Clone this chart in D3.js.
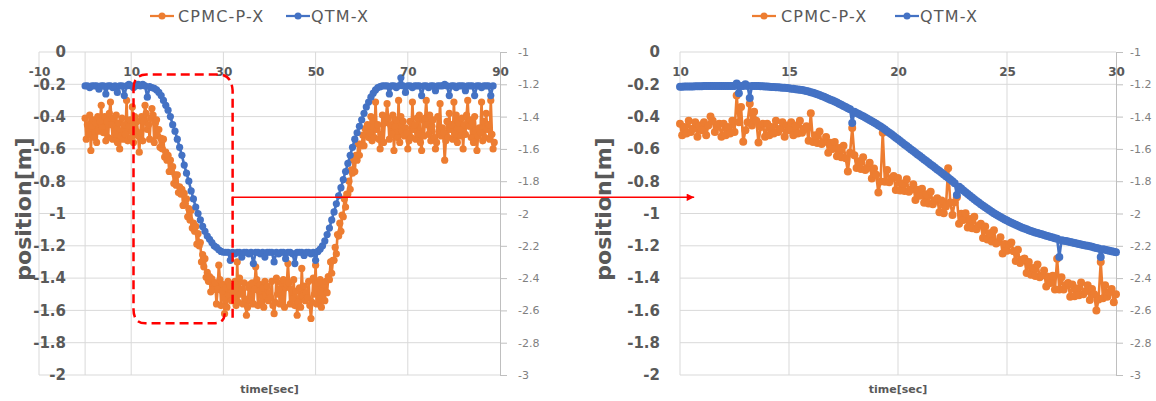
<!DOCTYPE html>
<html>
<head>
<meta charset="utf-8">
<script src="https://cdnjs.cloudflare.com/ajax/libs/d3/7.8.5/d3.min.js"></script>
<style>
  body { margin: 0; background: #fff; }
  svg { display: block; font-family: 'DejaVu Sans', sans-serif; }
</style>
</head>
<body>
<div class="canvas"></div>
<script>
const seriesNames = ['CPMC-P-X', 'QTM-X'];
const colors = ['#ED7D31', '#4472C4'];

// whole run: CPMC sampled every 0.25 s, QTM every 0.5 s, both from t = 0
const runStart = 0;
const runCpmcStep = 0.25;
const runQtmStep = 0.5;
const runCpmc = [
  // 0 - 15.75 s
  -0.41, -0.54, -0.45, -0.51, -0.39, -0.61, -0.46, -0.42, -0.53, -0.44, -0.56, -0.40, -0.49, -0.43, -0.33, -0.47,
  -0.50, -0.40, -0.55, -0.43, -0.53, -0.38, -0.31, -0.45, -0.54, -0.41, -0.51, -0.39, -0.56, -0.44, -0.60, -0.52,
  -0.41, -0.54, -0.45, -0.51, -0.30, -0.55, -0.46, -0.42, -0.53, -0.34, -0.56, -0.40, -0.49, -0.43, -0.52, -0.62,
  -0.50, -0.40, -0.55, -0.43, -0.33, -0.38, -0.48, -0.45, -0.54, -0.41, -0.35, -0.39, -0.56, -0.44, -0.42, -0.52,
  // 16 - 28 s
  -0.48, -0.59, -0.535, -0.6, -0.54, -0.65, -0.62, -0.67, -0.64, -0.74, -0.67, -0.74,
  -0.71, -0.815, -0.76, -0.825, -0.76, -0.87, -0.835, -0.88, -0.85, -0.95, -0.875, -0.94,
  -0.91, -1.02, -0.97, -1.04, -0.98, -1.09, -1.06, -1.11, -1.08, -1.19, -1.125, -1.2,
  -1.18, -1.3, -1.255, -1.33, -1.28, -1.395, -1.365, -1.42, -1.39, -1.485, -1.405, -1.47,
  -1.43,
  // 28.25 - 52 s
  -1.43, -1.56, -1.47, -1.32, -1.41, -1.57, -1.48, -1.44, -1.62, -1.46, -1.58, -1.42, -1.51, -1.45, -1.54, -1.49,
  -1.52, -1.42, -1.57, -1.30, -1.55, -1.40, -1.50, -1.47, -1.56, -1.43, -1.53, -1.63, -1.58, -1.46, -1.44, -1.54,
  -1.43, -1.56, -1.47, -1.33, -1.41, -1.57, -1.48, -1.44, -1.55, -1.46, -1.58, -1.42, -1.51, -1.45, -1.54, -1.49,
  -1.52, -1.42, -1.57, -1.62, -1.55, -1.40, -1.50, -1.47, -1.56, -1.43, -1.53, -1.41, -1.58, -1.46, -1.44, -1.31,
  -1.43, -1.56, -1.47, -1.53, -1.41, -1.57, -1.48, -1.63, -1.55, -1.46, -1.58, -1.34, -1.51, -1.45, -1.54, -1.49,
  -1.52, -1.42, -1.57, -1.65, -1.55, -1.40, -1.50, -1.32, -1.56, -1.43, -1.53, -1.41, -1.58, -1.46, -1.44, -1.54,
  // 52.25 - 61.5 s
  -1.42, -1.49, -1.39, -1.41, -1.3, -1.37, -1.29, -1.29, -1.21, -1.25, -1.13, -1.14,
  -1.06, -1.11, -1.01, -1.02, -0.91, -0.96, -0.88, -0.88, -0.8, -0.85, -0.73, -0.75,
  -0.67, -0.74, -0.64, -0.67, -0.57, -0.64, -0.57, -0.58, -0.515, -0.58, -0.475, -0.51,
  -0.45, -0.53,
  // 61.75 - 88.75 s
  -0.50, -0.40, -0.55, -0.43, -0.53, -0.31, -0.48, -0.45, -0.54, -0.60, -0.51, -0.39, -0.56, -0.44, -0.42, -0.32,
  -0.41, -0.54, -0.45, -0.51, -0.39, -0.61, -0.46, -0.42, -0.53, -0.30, -0.56, -0.40, -0.49, -0.43, -0.52, -0.47,
  -0.50, -0.60, -0.55, -0.43, -0.53, -0.31, -0.48, -0.45, -0.54, -0.41, -0.51, -0.39, -0.56, -0.61, -0.42, -0.52,
  -0.41, -0.30, -0.45, -0.51, -0.39, -0.55, -0.46, -0.42, -0.53, -0.60, -0.56, -0.40, -0.49, -0.32, -0.52, -0.47,
  -0.50, -0.67, -0.55, -0.43, -0.53, -0.38, -0.48, -0.45, -0.54, -0.31, -0.51, -0.39, -0.56, -0.44, -0.42, -0.52,
  -0.41, -0.60, -0.45, -0.51, -0.39, -0.30, -0.46, -0.42, -0.53, -0.44, -0.56, -0.40, -0.49, -0.61, -0.52, -0.47,
  -0.50, -0.31, -0.55, -0.43, -0.53, -0.38, -0.48, -0.45, -0.54, -0.30, -0.51, -0.60, -0.56
];
const runQtm = [
  -0.21, -0.21, -0.22, -0.21, -0.21, -0.21, -0.23, -0.21, -0.21, -0.26,
  -0.21, -0.21, -0.22, -0.21, -0.25, -0.21, -0.21, -0.27, -0.21, -0.2,
  -0.21, -0.22, -0.21, -0.2, -0.21, -0.2, -0.21, -0.28, -0.215, -0.22,
  -0.225, -0.235, -0.25, -0.27, -0.3, -0.33, -0.36, -0.4, -0.45, -0.49,
  -0.54, -0.59, -0.64, -0.7, -0.75, -0.8, -0.86, -0.91, -0.96, -1.0,
  -1.04, -1.08, -1.11, -1.14, -1.16, -1.18, -1.2, -1.21, -1.225, -1.235,
  -1.24, -1.24, -1.24, -1.29, -1.24, -1.25, -1.24, -1.24, -1.27, -1.24,
  -1.24, -1.25, -1.24, -1.31, -1.24, -1.24, -1.25, -1.24, -1.27, -1.24,
  -1.24, -1.24, -1.3, -1.24, -1.25, -1.24, -1.24, -1.28, -1.24, -1.24,
  -1.25, -1.31, -1.24, -1.24, -1.24, -1.26, -1.24, -1.24, -1.25, -1.24,
  -1.29, -1.235, -1.22, -1.2, -1.17, -1.13, -1.09, -1.04, -0.99, -0.94,
  -0.89, -0.84, -0.79, -0.74, -0.69, -0.64, -0.59, -0.54, -0.5, -0.46,
  -0.42, -0.38, -0.34, -0.31, -0.28, -0.255, -0.235, -0.22, -0.215, -0.21,
  -0.21, -0.21, -0.26, -0.21, -0.21, -0.22, -0.21, -0.16, -0.21, -0.25,
  -0.21, -0.21, -0.22, -0.21, -0.21, -0.21, -0.27, -0.21, -0.21, -0.22,
  -0.21, -0.21, -0.24, -0.21, -0.21, -0.21, -0.2, -0.21, -0.27, -0.21,
  -0.21, -0.22, -0.21, -0.21, -0.21, -0.24, -0.21, -0.21, -0.21, -0.27,
  -0.21, -0.21, -0.22, -0.21, -0.21, -0.21, -0.27, -0.21
];

// zoomed window, one sample every 0.1 s from t = 10
const zoomStart = 10;
const zoomStep = 0.1;
const zoomCpmc = [
  -0.445, -0.515, -0.465, -0.505, -0.425, -0.495, -0.475, -0.435, -0.525, -0.455,
  -0.485, -0.435, -0.515, -0.455, -0.40, -0.425, -0.495, -0.465, -0.445, -0.525,
  -0.445, -0.515, -0.465, -0.505, -0.425, -0.495, -0.27, -0.435, -0.34, -0.555,
  -0.485, -0.435, -0.32, -0.455, -0.37, -0.425, -0.56, -0.465, -0.445, -0.525,
  -0.445, -0.515, -0.465, -0.505, -0.425, -0.495, -0.475, -0.435, -0.525, -0.455,
  -0.485, -0.435, -0.515, -0.455, -0.505, -0.425, -0.5, -0.475, -0.46, -0.55,
  -0.38, -0.558, -0.516, -0.564, -0.492, -0.57, -0.558, -0.526, -0.624, -0.562,
  -0.60, -0.558, -0.646, -0.594, -0.652, -0.58, -0.658, -0.74, -0.624, -0.47,
  -0.64, -0.718, -0.676, -0.724, -0.652, -0.73, -0.718, -0.686, -0.784, -0.722,
  -0.76, -0.87, -0.802, -0.5, -0.804, -0.73, -0.806, -0.782, -0.768, -0.854,
  -0.78, -0.857, -0.814, -0.861, -0.788, -0.865, -0.852, -0.819, -0.916, -0.853,
  -0.89, -0.847, -0.934, -0.881, -0.938, -0.865, -0.942, -0.919, -0.906, -0.993,
  -0.92, -0.998, -0.956, -0.72, -0.932, -1.01, -0.93, -0.9, -1.064, -1.002,
  -1.04, -0.998, -1.086, -1.034, -1.092, -1.02, -1.098, -1.076, -1.064, -1.152,
  -1.08, -1.161, -1.122, -1.173, -1.104, -1.185, -1.176, -1.147, -1.248, -1.189,
  -1.23, -1.191, -1.18, -1.233, -1.294, -1.225, -1.306, -1.287, -1.278, -1.369,
  -1.3, -1.379, -1.338, -1.387, -1.316, -1.395, -1.384, -1.353, -1.452, -1.391,
  -1.43, -1.385, -1.47, -1.28, -1.47, -1.395, -1.47, -1.445, -1.43, -1.515,
  -1.44, -1.512, -1.464, -1.506, -1.428, -1.5, -1.482, -1.444, -1.536, -1.468,
  -1.5, -1.6, -1.532, -1.3, -1.524, -1.445, -1.516, -1.487, -1.468, -1.549,
  -1.5
];
const zoomQtm = [
  -0.215, -0.215, -0.214, -0.214, -0.213, -0.213, -0.213, -0.212, -0.212, -0.212,
  -0.212, -0.211, -0.211, -0.211, -0.211, -0.21, -0.21, -0.21, -0.21, -0.21,
  -0.21, -0.21, -0.21, -0.21, -0.21, -0.21, -0.195, -0.255, -0.21, -0.21,
  -0.2, -0.21, -0.285, -0.21, -0.21, -0.211, -0.211, -0.212, -0.212, -0.213,
  -0.214, -0.215, -0.216, -0.217, -0.218, -0.219, -0.22, -0.221, -0.222, -0.223,
  -0.225, -0.227, -0.228, -0.23, -0.232, -0.234, -0.236, -0.239, -0.242, -0.245,
  -0.249, -0.253, -0.257, -0.262, -0.267, -0.272, -0.277, -0.283, -0.289, -0.295,
  -0.301, -0.307, -0.313, -0.32, -0.327, -0.334, -0.341, -0.348, -0.355, -0.44,
  -0.37, -0.377, -0.384, -0.391, -0.398, -0.405, -0.413, -0.421, -0.429, -0.437,
  -0.445, -0.453, -0.461, -0.47, -0.48, -0.49, -0.5, -0.51, -0.52, -0.531,
  -0.541, -0.551, -0.562, -0.572, -0.582, -0.593, -0.603, -0.613, -0.624, -0.634,
  -0.644, -0.655, -0.665, -0.675, -0.686, -0.696, -0.706, -0.717, -0.727, -0.737,
  -0.748, -0.758, -0.769, -0.779, -0.79, -0.801, -0.812, -0.885, -0.834, -0.845,
  -0.857, -0.868, -0.879, -0.89, -0.901, -0.912, -0.922, -0.932, -0.942, -0.952,
  -0.962, -0.971, -0.98, -0.989, -0.998, -1.006, -1.014, -1.022, -1.03, -1.037,
  -1.044, -1.051, -1.058, -1.064, -1.07, -1.076, -1.082, -1.088, -1.093, -1.098,
  -1.103, -1.108, -1.113, -1.117, -1.121, -1.125, -1.129, -1.133, -1.137, -1.141,
  -1.145, -1.149, -1.153, -1.157, -1.27, -1.165, -1.168, -1.171, -1.174, -1.177,
  -1.18, -1.183, -1.186, -1.189, -1.192, -1.195, -1.198, -1.2, -1.203, -1.206,
  -1.21, -1.213, -1.216, -1.27, -1.222, -1.225, -1.228, -1.231, -1.234, -1.237,
  -1.24
];

const runTicks = [-10, 10, 30, 50, 70, 90];
const zoomTicks = [10, 15, 20, 25, 30];
const posTicks = [0, -0.2, -0.4, -0.6, -0.8, -1, -1.2, -1.4, -1.6, -1.8, -2];
const secTicks = [-1, -1.2, -1.4, -1.6, -1.8, -2, -2.2, -2.4, -2.6, -2.8, -3];

const dims = { width: 1156, height: 401, top: 52, bottom: 375 };
const grey = '#595959';
const gridColor = '#d9d9d9';

const svg = d3
  .select('.canvas')
  .append('svg')
  .attr('width', dims.width)
  .attr('height', dims.height);

const y = d3.scaleLinear().domain([-2, 0]).range([dims.bottom, dims.top]);
const y2 = d3.scaleLinear().domain([-3, -1]).range([dims.bottom, dims.top]);
const fmt = (d) => String(+d.toFixed(1));

const toRows = (values, start, step) => values.map((v, i) => ({ t: start + i * step, v }));

const panels = [
  {
    x0: 39, x1: 500, domain: [-10, 90], ticks: runTicks, grid: [0, 10, 30, 50, 70],
    labelEnd: 66, secPad: 11, titleX: 23, dot: 3.6,
    legendLines: [150, 286], legendTexts: [178, 311],
    series: [toRows(runCpmc, runStart, runCpmcStep), toRows(runQtm, runStart, runQtmStep)]
  },
  {
    x0: 680, x1: 1116, domain: [10, 30], ticks: zoomTicks, grid: [15, 20, 25],
    labelEnd: 660, secPad: 7, titleX: 603, dot: 4,
    legendLines: [752, 895], legendTexts: [781, 920],
    series: [toRows(zoomCpmc, zoomStart, zoomStep), toRows(zoomQtm, zoomStart, zoomStep)]
  }
];

const drawPanel = (p) => {
  const x = d3.scaleLinear().domain(p.domain).range([p.x0, p.x1]);
  const g = svg.append('g');

  g.append('g')
    .selectAll('line')
    .data(posTicks)
    .join('line')
    .attr('x1', p.x0)
    .attr('x2', p.x1)
    .attr('y1', (d) => y(d))
    .attr('y2', (d) => y(d))
    .attr('stroke', gridColor);

  g.append('g')
    .selectAll('line')
    .data([p.domain[0], ...p.grid])
    .join('line')
    .attr('x1', (d) => x(d))
    .attr('x2', (d) => x(d))
    .attr('y1', dims.top)
    .attr('y2', dims.bottom)
    .attr('stroke', gridColor);

  // secondary axis on the right
  const sec = g
    .append('g')
    .attr('transform', `translate(${p.x1},0)`)
    .call(
      d3.axisRight(y2).tickValues(secTicks).tickSize(7).tickSizeOuter(0)
        .tickPadding(p.secPad).tickFormat(fmt)
    )
    .attr('font-family', 'DejaVu Sans, sans-serif')
    .attr('font-size', 11);
  sec.selectAll('path, line').attr('stroke', '#bfbfbf');
  sec.selectAll('text').attr('fill', '#7f7f7f');

  // series: line with round markers, QTM drawn on top
  const line = d3.line().x((d) => x(d.t)).y((d) => y(d.v));
  p.series.forEach((rows, k) => {
    g.append('path')
      .datum(rows)
      .attr('d', line)
      .attr('fill', 'none')
      .attr('stroke', colors[k])
      .attr('stroke-width', 2.6)
      .attr('stroke-linejoin', 'round');
    g.append('g')
      .selectAll('circle')
      .data(rows)
      .join('circle')
      .attr('cx', (d) => x(d.t))
      .attr('cy', (d) => y(d.v))
      .attr('r', p.dot)
      .attr('fill', colors[k]);
  });

  // primary labels
  const axisY = g
    .append('g')
    .attr('transform', `translate(${p.labelEnd},0)`)
    .call(d3.axisLeft(y).tickValues(posTicks).tickSize(0).tickPadding(0).tickFormat(fmt))
    .attr('font-family', 'DejaVu Sans, sans-serif')
    .attr('font-size', 15)
    .attr('font-weight', 'bold');
  axisY.select('.domain').remove();
  axisY.selectAll('text').attr('fill', grey);

  const axisX = g
    .append('g')
    .attr('transform', 'translate(0,67)')
    .call(d3.axisBottom(x).tickValues(p.ticks).tickSize(0).tickPadding(0).tickFormat(fmt))
    .attr('font-family', 'DejaVu Sans, sans-serif')
    .attr('font-size', 12)
    .attr('font-weight', 'bold');
  axisX.select('.domain').remove();
  axisX.selectAll('text').attr('fill', grey);

  // titles
  g.append('text')
    .attr('transform', `translate(${p.titleX},209) rotate(-90)`)
    .attr('text-anchor', 'middle')
    .attr('dominant-baseline', 'central')
    .attr('font-size', 22)
    .attr('font-weight', 'bold')
    .attr('fill', grey)
    .text('position[m]');

  g.append('text')
    .attr('x', (p.x0 + p.x1) / 2)
    .attr('y', 393)
    .attr('text-anchor', 'middle')
    .attr('font-size', 11)
    .attr('font-weight', 'bold')
    .attr('fill', grey)
    .text('time[sec]');

  // legend
  const legend = g.append('g');
  seriesNames.forEach((name, k) => {
    const lx = p.legendLines[k];
    legend.append('line')
      .attr('x1', lx).attr('x2', lx + 24)
      .attr('y1', 16).attr('y2', 16)
      .attr('stroke', colors[k])
      .attr('stroke-width', 2.25);
    legend.append('circle')
      .attr('cx', lx + 12).attr('cy', 16).attr('r', 3.5)
      .attr('fill', colors[k]);
    legend.append('text')
      .attr('x', p.legendTexts[k])
      .attr('y', 22)
      .attr('font-size', 16)
      .attr('letter-spacing', 1.2)
      .attr('fill', grey)
      .text(name);
  });

  return x;
};

const [xRun, xZoom] = panels.map(drawPanel);

// red call-out: dashed frame over the 10-30 s section and arrow to the zoom
const frame = { l: xRun(10.5), r: xRun(32), t: y(-0.14), b: y(-1.68) };
const fp = d3.path();
fp.moveTo(frame.l, frame.t + 14);
fp.quadraticCurveTo(frame.l, frame.t, frame.l + 13, frame.t);
fp.lineTo(frame.r - 12, frame.t);
fp.quadraticCurveTo(frame.r - 1, frame.t + 1, frame.r, frame.t + 16);
fp.lineTo(frame.r, frame.b - 4);
fp.moveTo(frame.r - 8, frame.b - 10);
fp.quadraticCurveTo(frame.r - 8, frame.b, frame.r - 19, frame.b);
fp.lineTo(frame.l + 12, frame.b);
fp.quadraticCurveTo(frame.l, frame.b, frame.l, frame.b - 14);
fp.lineTo(frame.l, frame.t + 14);

svg.append('path')
  .attr('d', fp.toString())
  .attr('fill', 'none')
  .attr('stroke', '#ff0000')
  .attr('stroke-width', 2.5)
  .attr('stroke-dasharray', '9,5');

svg.append('defs')
  .append('marker')
  .attr('id', 'arrow')
  .attr('viewBox', '0 0 10 10')
  .attr('refX', 10)
  .attr('refY', 5)
  .attr('markerWidth', 6)
  .attr('markerHeight', 5)
  .attr('orient', 'auto')
  .append('path')
  .attr('d', 'M0,0L10,5L0,10z')
  .attr('fill', '#ff0000');

const arrowY = y(-0.9);
svg.append('path')
  .attr('d', `M${frame.r},${arrowY + 6}V${arrowY}H${xZoom(10.65)}`)
  .attr('fill', 'none')
  .attr('stroke', '#ff0000')
  .attr('stroke-width', 1.5)
  .attr('marker-end', 'url(#arrow)');
</script>
</body>
</html>
